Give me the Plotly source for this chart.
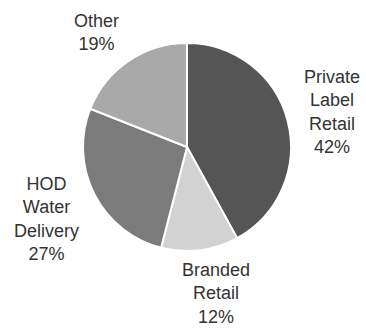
import plotly.graph_objects as go

labels = ["Private Label Retail", "Branded Retail", "HOD Water Delivery", "Other"]
label_lines = ["Private<br>Label<br>Retail", "Branded<br>Retail", "HOD<br>Water<br>Delivery", "Other"]
values = [42, 12, 27, 19]
colors = ["#555555", "#d2d2d2", "#7b7b7b", "#a9a9a9"]

W, H = 366, 331
# label anchor centres (pixels)
label_pos = [(332, 112), (216, 293), (46, 219), (96, 33)]

fig = go.Figure(go.Pie(
    labels=labels, values=values, sort=False, direction="clockwise", rotation=0,
    marker=dict(colors=colors, line=dict(color="white", width=2)),
    textinfo="none", hoverinfo="label+percent", showlegend=False,
    domain=dict(x=[83 / W, 291 / W], y=[1 - 251 / H, 1 - 43 / H]),
))

for txt, v, (px, py) in zip(label_lines, values, label_pos):
    fig.add_annotation(
        x=px / W, y=1 - py / H, xref="paper", yref="paper",
        text=f"{txt}<br>{v}%", showarrow=False, align="center",
        xanchor="center", yanchor="middle",
        font=dict(family="Liberation Sans, Arial", size=18, color="#333333"),
    )

fig.update_layout(width=W, height=H, margin=dict(l=0, r=0, t=0, b=0),
                  paper_bgcolor="white", plot_bgcolor="white")
fig.write_html("out.html")
